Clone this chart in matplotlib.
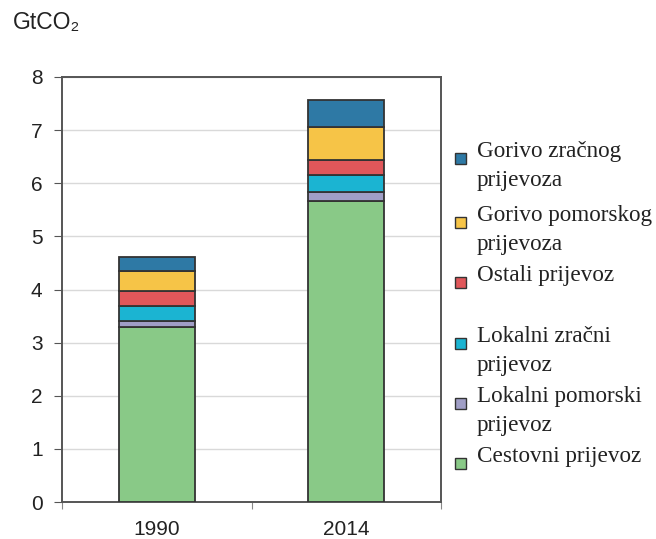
import matplotlib
matplotlib.use("Agg")
import matplotlib.pyplot as plt
from matplotlib.patches import Rectangle
import numpy as np

# podaci
godine = ["1990", "2014"]
kategorije = ["Cestovni prijevoz", "Lokalni pomorski\nprijevoz", "Lokalni zračni\nprijevoz",
              "Ostali prijevoz", "Gorivo pomorskog\nprijevoza", "Gorivo zračnog\nprijevoza"]
cestovni = [3.30, 5.67]
lok_pomorski = [0.10, 0.16]
lok_zracni = [0.29, 0.32]
ostali = [0.29, 0.28]
gor_pomorski = [0.37, 0.62]
gor_zracni = [0.27, 0.51]
boje = ["#89c987", "#a09ec6", "#1bb4d2", "#e0575a", "#f6c447", "#2e79a5"]
y_ticks = [0, 1, 2, 3, 4, 5, 6, 7, 8]

W, H = 656, 539
fig = plt.figure(figsize=(W / 100, H / 100), dpi=100)
ax = fig.add_axes([62 / W, 1 - 502 / H, (441 - 62) / W, (502 - 77) / H])

serije = [cestovni, lok_pomorski, lok_zracni, ostali, gor_pomorski, gor_zracni]
x = np.arange(len(godine))
dno = np.zeros(len(godine))
for vrijednosti, boja in zip(serije, boje):
    ax.bar(x, vrijednosti, 0.4, bottom=dno, color=boja, edgecolor="#333333",
           linewidth=1.3, zorder=3)
    dno += np.array(vrijednosti)

ax.set_xlim(-0.5, 1.5)
ax.set_ylim(0, 8)
ax.set_yticks(y_ticks)
ax.set_xticks([-0.5, 0.5, 1.5])
ax.set_xticklabels([])
ax.set_xticks(x, minor=True)
ax.set_xticklabels(godine, minor=True)
ax.tick_params(axis="x", which="minor", length=0, pad=13, labelsize=15, labelcolor="#222222")
ax.tick_params(axis="x", which="major", length=5, color="#888888")
ax.tick_params(axis="y", length=6, pad=8, labelsize=15, labelcolor="#222222", color="#555555")
for t in ax.get_xticklabels(minor=True) + ax.get_yticklabels():
    t.set_family(["Liberation Sans", "DejaVu Sans"])
ax.grid(axis="y", color="#d9d9d9", linewidth=1, zorder=0)
ax.set_axisbelow(True)
for s in ax.spines.values():
    s.set_color("#555555")
    s.set_linewidth(1.4)

fig.text(13 / W, 1 - 29 / H, "GtCO₂", fontsize=16.5, color="#222222",
         family=["Liberation Sans", "DejaVu Sans"], va="baseline")

# legenda (ručno, odozgo prema dolje)
centri = [158, 222, 282, 343, 403, 463]
for i, (lab, boja) in enumerate(zip(kategorije[::-1], boje[::-1])):
    yc = centri[i]
    fig.patches.append(Rectangle(((455) / W, 1 - (yc + 5.5) / H), 11 / W, 11 / H,
                                 transform=fig.transFigure, facecolor=boja,
                                 edgecolor="#333333", linewidth=1.0))
    for k, red in enumerate(lab.split("\n")):
        fig.text(477 / W, 1 - (yc - 1 + 29 * k) / H, red, fontsize=16.7, color="#222222",
                 family=["Liberation Serif", "DejaVu Serif"], va="baseline")

fig.savefig("out.png", dpi=100)
